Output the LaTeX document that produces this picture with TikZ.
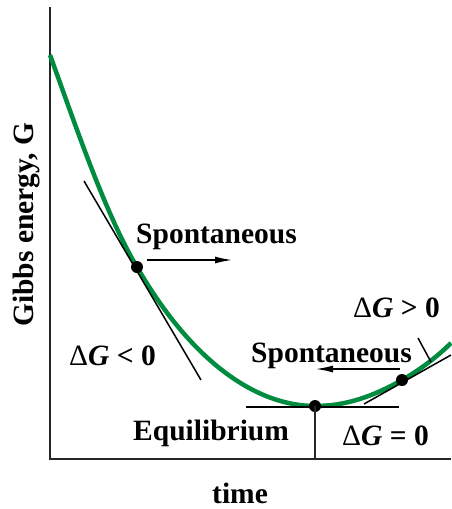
\documentclass[tikz,border=0pt]{standalone}
\usepackage{fontspec}
\setmainfont{Liberation Serif}
\usetikzlibrary{arrows.meta,positioning,calc}
\definecolor{CurveGreen}{RGB}{0,140,62}
\newcommand{\dG}{{\mdseries Δ}\textit{G}}
\tikzset{
  lbl/.style={font=\fontsize{29.5}{31}\selectfont\bfseries,inner sep=0pt,anchor=base west},
  axisline/.style={line width=2.2pt,black!85},
  tang/.style={line width=1.5pt},
  gcurve/.style={CurveGreen,line width=4.5pt},
  gdot/.style={circle,fill=black,inner sep=0pt,minimum size=12pt},
  arr/.style={-{Latex[length=18pt,width=7pt]},line width=2pt},
}

\begin{document}
\begin{tikzpicture}[x=1pt,y=-1pt]
  \useasboundingbox (0,0) rectangle (451,509);

  % axes
  \coordinate (ytop) at (50,7);
  \coordinate (orig) at (50,459);
  \coordinate (xend) at (451,459);
  \draw[axisline] (ytop) -- (orig) -- (xend);

  % points on the curve
  \coordinate (c0) at (50,55);
  \coordinate (p1) at (137,267);
  \coordinate (p0) at (315,406);
  \coordinate (p2) at (402,380);
  \coordinate (c3) at (451,343);

  % Gibbs curve
  \draw[gcurve] (c0) .. controls (73,118) and (105,214) .. (p1)
    .. controls (193,364) and (258,406) .. (p0)
    .. controls (345,406) and (372,397) .. (p2)
    .. controls (418,371) and (436,358) .. (c3);

  % tangents
  \coordinate (t1a) at (84,181);
  \coordinate (t1b) at (201,380);
  \draw[tang] (t1a) -- (t1b);
  \coordinate (h1) at (246,407);
  \coordinate (h2) at (399,407);
  \draw[tang] (h1) -- (h2);
  \coordinate (t2a) at (364,404);
  \coordinate (t2b) at (451,355);
  \draw[tang] (t2a) -- (t2b);
  \coordinate (l1) at (418,338);
  \coordinate (l2) at (431,362);
  \draw[tang] (l1) -- (l2);

  \node[gdot] (d1) at (p1) {};
  \node[gdot] (d0) at (p0) {};
  \node[gdot] (d2) at (p2) {};
  \draw[axisline] (d0.center) -- (d0.center |- orig);

  % direction arrows
  \coordinate (a1s) at (147,260);
  \coordinate (a1e) at (233,260);
  \draw[arr] (a1s) -- (a1e);
  \coordinate (a2s) at (400,369);
  \coordinate (a2e) at (315,369);
  \draw[arr] (a2s) -- (a2e);

  % labels
  \node[lbl] (spon1) at (136,243) {Spontaneous};
  \node[lbl] (spon2) at (251,362) {Spontaneous};
  \node[lbl] (neg) at (69,365) {\dG{} < 0};
  \node[lbl] (pos) at (353,317) {\dG{} > 0};
  \node[lbl] (equil) at (133,440) {Equilibrium};
  \node[lbl] (zero) at (342,445) {\dG{} = 0};
  \node[lbl] (xlab) at (212,503) {time};
  \node[lbl,rotate=90] (ylab) at (33,327) {Gibbs energy, G};
\end{tikzpicture}
\end{document}
